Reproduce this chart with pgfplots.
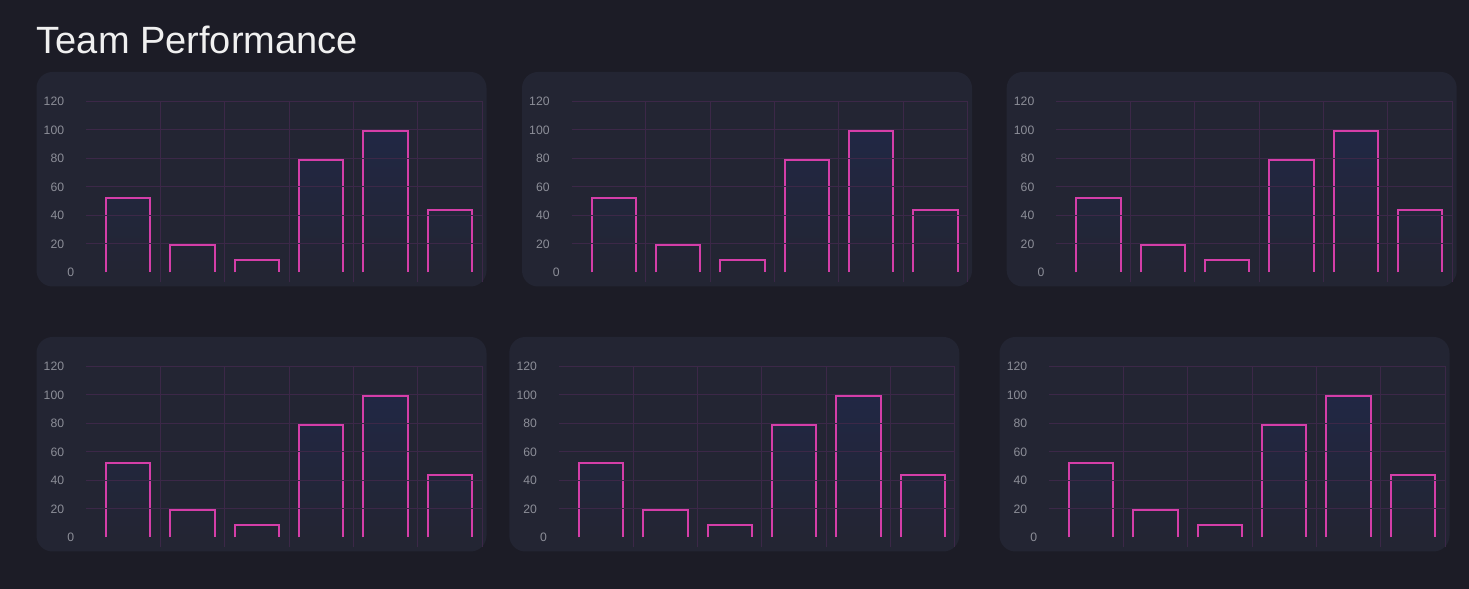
\documentclass[border=0pt]{standalone}
\usepackage{pgfplots}
\pgfplotsset{compat=1.18}
\usepackage{pgfplotstable}
\usepackage{fontspec}
\setmainfont{Liberation Sans}
\definecolor{bgc}{RGB}{28,28,38}
\definecolor{panelc}{RGB}{35,37,51}
\definecolor{gridc}{RGB}{60,40,72}
\definecolor{barc}{RGB}{212,62,168}
\definecolor{bartop}{RGB}{33,39,68}
\definecolor{tickc}{RGB}{140,142,152}

\pgfplotstableread{
x y
0 52
1 19
2 9
3 79
4 99
5 44
}\bars

\pgfplotstableread{
x y
-0.345 0
-0.345 52
0.345 52
0.345 0
nan nan
0.655 0
0.655 19
1.345 19
1.345 0
nan nan
1.655 0
1.655 9
2.345 9
2.345 0
nan nan
2.655 0
2.655 79
3.345 79
3.345 0
nan nan
3.655 0
3.655 99
4.345 99
4.345 0
nan nan
4.655 0
4.655 44
5.345 44
5.345 0
}\outline

\newcommand{\panel}[2]{%
  \pgfmathsetmacro\px{#1*0.5}%
  \pgfmathsetmacro\py{#2*0.5}%
  \pgfmathsetmacro\ax{(#1+59.6)*0.5}%
  \pgfmathsetmacro\ay{(#2+14)*0.5}%
  \fill[panelc, rounded corners=8pt] (\px pt,\py pt) rectangle ++(225pt,107.25pt);
  \begin{axis}[
    at={(\ax pt,\ay pt)}, anchor=south west,
    scale only axis, width=193pt, height=85.6pt,
    xmin=-0.5, xmax=5.5, ymin=0, ymax=120,
    axis line style={draw=none},
    axis on top,
    xtick={0.5,1.5,2.5,3.5,4.5,5.5}, xticklabels={},
    ytick={20,40,60,80,100,120},
    extra y ticks={0},
    extra y tick style={major grid style={draw=none}, major tick length=0pt},
    xmajorgrids, ymajorgrids,
    major grid style={gridc, line width=0.5pt},
    tick align=outside, major tick length=5pt,
    every tick/.style={gridc, line width=0.5pt},
    xtick pos=bottom, ytick pos=left,
    /pgf/number format/assume math mode=true,
    yticklabel style={font=\fontsize{6.1}{7}\selectfont, text=tickc, anchor=east, inner sep=0pt, xshift=-10.8pt},
    clip=false,
    unbounded coords=jump,
  ]
  \addplot[ybar, bar width=0.69, bar shift=0pt, draw=none, top color=bartop, bottom color=panelc] table {\bars};
  \addplot[barc, line width=1pt, mark=none, line join=miter] table {\outline};
  \end{axis}%
}

\begin{document}
\begin{tikzpicture}
\fill[bgc] (0,0) rectangle (734.5pt,294.5pt);
\useasboundingbox (0,0) rectangle (734.5pt,294.5pt);
\node[anchor=base west, inner sep=0pt, text=white!94!black, font=\fontsize{19}{22}\selectfont] at (18.2pt,267.85pt) {Team Performance};
\panel{36.5}{302.5}
\panel{522}{302.5}
\panel{1006.7}{302.5}
\panel{36.5}{37.5}
\panel{509.3}{37.5}
\panel{999.5}{37.5}
\end{tikzpicture}
\end{document}
